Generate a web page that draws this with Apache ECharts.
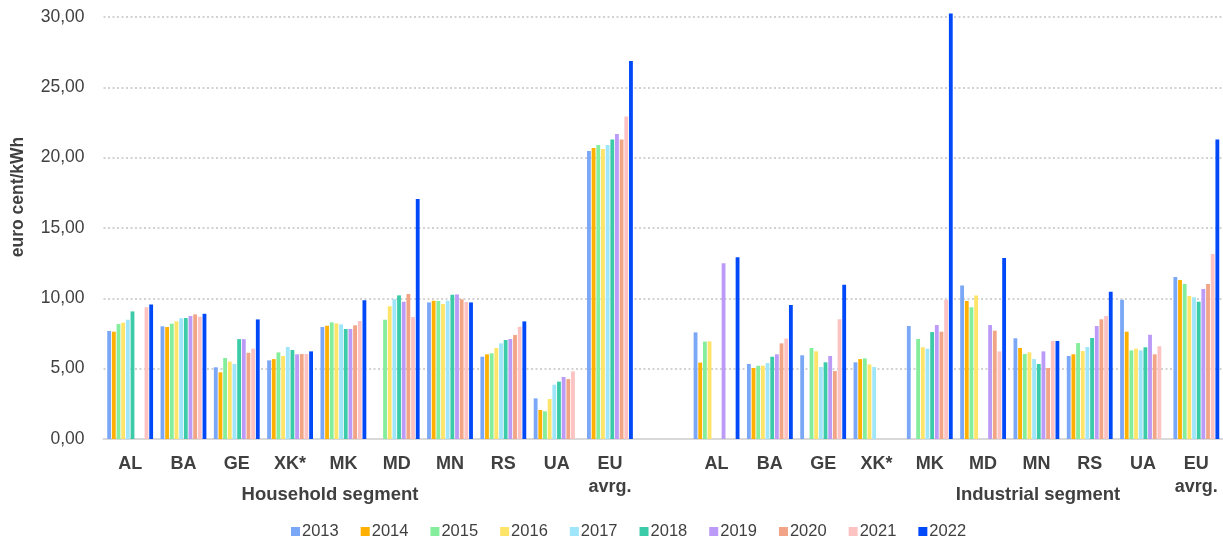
<!DOCTYPE html>
<html>
<head>
<meta charset="utf-8">
<script src="https://cdn.jsdelivr.net/npm/echarts@6/dist/echarts.min.js"></script>
<style>
  html, body { margin: 0; padding: 0; background: #fff; }
  #chart { width: 1223px; height: 545px; }
</style>
</head>
<body>
<div id="chart"></div>
<script>
// categories: household block, empty spacer, industrial block
const categories = [
  'AL', 'BA', 'GE', 'XK*', 'MK', 'MD', 'MN', 'RS', 'UA', 'EU\navrg.',
  '',
  'AL', 'BA', 'GE', 'XK*', 'MK', 'MD', 'MN', 'RS', 'UA', 'EU\navrg.'
]
const years = ['2013', '2014', '2015', '2016', '2017', '2018', '2019', '2020', '2021', '2022']
const yTicks = { min: 0, max: 30, interval: 5 }

// one array per year, values in euro cent/kWh (null = no data)
const v2013 = [7.68, 8.01, 5.10, 5.59, 7.96, null, 9.71, 5.85, 2.89, 20.47, null, 7.58, 5.33, 5.95, 5.45, 8.03, 10.92, 7.16, 5.90, 9.90, 11.51]
const v2014 = [7.63, 7.96, 4.74, 5.68, 8.05, null, 9.83, 6.02, 2.06, 20.68, null, 5.43, 5.05, null, 5.68, null, 9.81, 6.47, 6.02, 7.63, 11.30]
const v2015 = [8.17, 8.20, 5.76, 6.16, 8.29, 8.48, 9.81, 6.09, 1.97, 20.90, null, 6.92, 5.21, 6.47, 5.73, 7.11, 9.36, 6.04, 6.82, 6.30, 11.02]
const v2016 = [8.27, 8.36, 5.50, 5.90, 8.22, 9.43, 9.60, 6.47, 2.84, 20.61, null, 6.94, 5.21, 6.23, 5.30, 6.52, 10.21, 6.16, 6.25, 6.42, 10.16]
const v2017 = [8.48, 8.58, 5.33, 6.54, 8.15, 9.93, 9.83, 6.80, 3.86, 20.90, null, null, 5.40, 5.12, 5.12, 6.42, null, 5.68, 6.54, 6.30, 10.07]
const v2018 = [9.07, 8.60, 7.10, 6.33, 7.82, 10.21, 10.26, 7.04, 4.08, 21.30, null, null, 5.85, 5.45, null, 7.60, null, 5.33, 7.18, 6.52, 9.76]
const v2019 = [null, 8.74, 7.10, 6.02, 7.82, 9.76, 10.28, 7.11, 4.41, 21.68, null, 12.49, 6.02, 5.90, null, 8.10, 8.10, 6.23, 8.03, 7.41, 10.66]
const v2020 = [null, 8.86, 6.13, 6.04, 8.08, 10.31, 9.93, 7.39, 4.26, 21.30, null, null, 6.80, 4.83, null, 7.63, 7.70, 5.05, 8.51, 6.02, 11.02]
const v2021 = [9.36, 8.69, 6.42, 6.04, 8.39, 8.67, 9.74, 7.98, 4.81, 22.93, null, null, 7.13, 8.51, null, 9.90, 6.23, 6.97, 8.74, 6.59, 13.15]
const v2022 = [9.57, 8.90, 8.50, 6.23, 9.86, 17.06, 9.71, 8.36, null, 26.87, null, 12.92, 9.52, 10.97, null, 30.25, 12.87, 6.97, 10.47, null, 21.30]

const seriesValues = [v2013, v2014, v2015, v2016, v2017, v2018, v2019, v2020, v2021, v2022]
const colors = ['#7ba7f7', '#ffb000', '#84ee9c', '#ffe46a', '#9fe6fa', '#3ccba8', '#bb9af8', '#f1a586', '#fdc3c3', '#0049f8']

const textColor = '#404040'
const chart = echarts.init(document.getElementById('chart'))

chart.setOption({
  animation: false,
  color: colors,
  grid: { left: 103.5, right: 0, top: 17, bottom: 106 },
  legend: {
    data: years,
    bottom: 0,
    left: 286,
    icon: 'rect',
    itemWidth: 9,
    itemHeight: 9,
    itemGap: 22,
    textStyle: { color: textColor, fontSize: 16.5, fontFamily: 'Liberation Sans', padding: [0, 0, 0, -3] }
  },
  xAxis: {
    type: 'category',
    data: categories,
    axisLine: { lineStyle: { color: '#d9d9d9', width: 2 } },
    axisTick: { show: false },
    axisLabel: {
      interval: 0,
      margin: 14,
      color: textColor,
      fontSize: 18,
      fontWeight: 'bold',
      fontFamily: 'Liberation Sans',
      lineHeight: 23
    }
  },
  yAxis: {
    type: 'value',
    min: yTicks.min,
    max: yTicks.max,
    interval: yTicks.interval,
    axisLine: { show: false },
    axisTick: { show: false },
    splitLine: { lineStyle: { color: '#c4c4c4', width: 1.5, type: [2, 2.5] } },
    axisLabel: {
      margin: 19,
      color: textColor,
      fontSize: 17.5,
      fontFamily: 'Liberation Sans',
      formatter: v => v.toFixed(2).replace('.', ',')
    }
  },
  graphic: [
    {
      type: 'text', x: 18, y: 197, rotation: Math.PI / 2,
      style: { text: 'euro cent/kWh', fill: textColor, font: 'bold 17.5px "Liberation Sans"', align: 'center', verticalAlign: 'middle' }
    },
    {
      type: 'text', x: 330, y: 495,
      style: { text: 'Household segment', fill: textColor, font: 'bold 18.5px "Liberation Sans"', align: 'center', verticalAlign: 'middle' }
    },
    {
      type: 'text', x: 1038, y: 495,
      style: { text: 'Industrial segment', fill: textColor, font: 'bold 18.5px "Liberation Sans"', align: 'center', verticalAlign: 'middle' }
    }
  ],
  series: years.map((y, i) => ({
    name: y,
    type: 'bar',
    data: seriesValues[i],
    clip: false,
    barGap: '22%',
    barCategoryGap: '14%'
  }))
})
</script>
</body>
</html>
